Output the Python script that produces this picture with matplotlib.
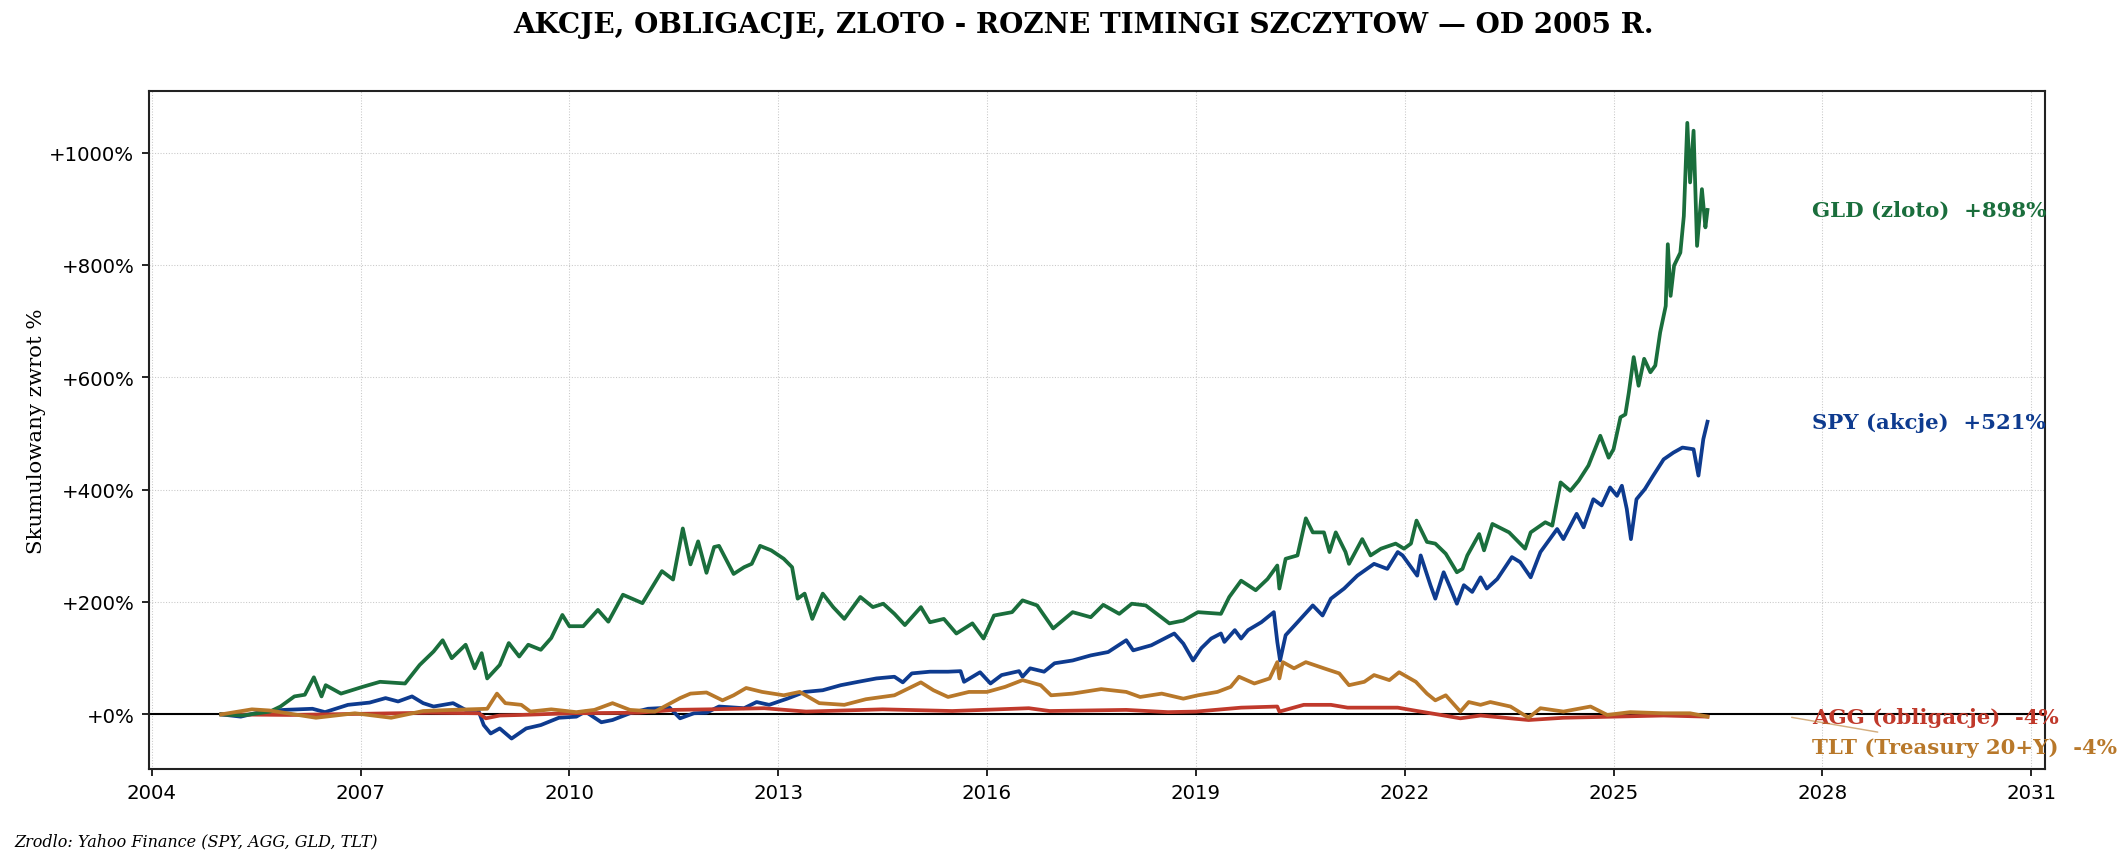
import matplotlib
matplotlib.use("Agg")
import matplotlib.pyplot as plt
from matplotlib.ticker import FuncFormatter, MultipleLocator

# data (decimal year, cumulative return in %)
gld_x = [2005.0, 2005.3, 2005.7, 2005.85, 2006.05, 2006.2, 2006.33, 2006.44, 2006.5, 2006.72,
         2007.03, 2007.28, 2007.64, 2007.85, 2008.05, 2008.18, 2008.31, 2008.51, 2008.64, 2008.74,
         2008.82, 2009.0, 2009.13, 2009.28, 2009.41, 2009.59, 2009.74, 2009.9, 2010.0, 2010.2,
         2010.41, 2010.56, 2010.77, 2011.05, 2011.33, 2011.49, 2011.63, 2011.74, 2011.85, 2011.97,
         2012.08, 2012.15, 2012.36, 2012.51, 2012.62, 2012.74, 2012.9, 2013.08, 2013.2, 2013.28,
         2013.38, 2013.49, 2013.64, 2013.79, 2013.95, 2014.18, 2014.36, 2014.51, 2014.67, 2014.82,
         2015.05, 2015.18, 2015.38, 2015.56, 2015.79, 2015.95, 2016.1, 2016.36, 2016.51, 2016.72,
         2016.95, 2017.23, 2017.49, 2017.67, 2017.9, 2018.08, 2018.28, 2018.62, 2018.82, 2019.03,
         2019.36, 2019.48, 2019.65, 2019.86, 2020.03, 2020.17, 2020.2, 2020.29, 2020.46, 2020.58,
         2020.68, 2020.84, 2020.92, 2021.01, 2021.15, 2021.2, 2021.39, 2021.51, 2021.66, 2021.87,
         2021.99, 2022.09, 2022.17, 2022.32, 2022.44, 2022.59, 2022.75, 2022.83, 2022.9, 2023.07,
         2023.14, 2023.26, 2023.5, 2023.73, 2023.81, 2024.02, 2024.12, 2024.24, 2024.38, 2024.5,
         2024.64, 2024.81, 2024.93, 2025.0, 2025.1, 2025.17, 2025.22, 2025.29, 2025.36, 2025.44,
         2025.53, 2025.6, 2025.67, 2025.75, 2025.78, 2025.82, 2025.87, 2025.96, 2026.01, 2026.06,
         2026.1, 2026.15, 2026.2, 2026.27, 2026.32, 2026.35]
gld_y = [0, -2, 5, 14, 32, 35, 66, 32, 52, 37,
         49, 58, 55, 88, 112, 132, 100, 124, 82, 109,
         64, 88, 127, 103, 124, 115, 136, 177, 157, 157,
         186, 165, 213, 198, 255, 240, 331, 267, 308, 252,
         298, 300, 250, 262, 268, 300, 292, 277, 262, 206,
         215, 170, 215, 191, 170, 209, 191, 197, 179, 159,
         191, 164, 170, 144, 162, 135, 176, 182, 203, 194,
         153, 182, 173, 195, 179, 197, 194, 162, 167, 182,
         179, 209, 238, 221, 241, 265, 224, 277, 283, 349,
         324, 324, 289, 324, 289, 268, 312, 283, 295, 304,
         295, 304, 345, 307, 304, 286, 253, 259, 283, 321,
         292, 339, 324, 295, 324, 342, 336, 413, 398, 416,
         443, 496, 457, 472, 529, 534, 573, 636, 585, 633,
         609, 621, 680, 727, 837, 745, 799, 822, 887, 1053,
         947, 1039, 834, 935, 867, 898]

spy_x = [2005.0, 2005.28, 2005.59, 2005.9, 2006.31, 2006.49, 2006.82, 2007.13, 2007.36, 2007.54,
         2007.74, 2007.9, 2008.05, 2008.33, 2008.51, 2008.69, 2008.77, 2008.87, 2009.0, 2009.17,
         2009.38, 2009.59, 2009.85, 2010.1, 2010.23, 2010.46, 2010.62, 2010.87, 2011.13, 2011.44,
         2011.59, 2011.79, 2011.97, 2012.15, 2012.51, 2012.69, 2012.87, 2013.13, 2013.38, 2013.64,
         2013.9, 2014.15, 2014.41, 2014.67, 2014.79, 2014.92, 2015.18, 2015.44, 2015.62, 2015.67,
         2015.9, 2016.05, 2016.21, 2016.46, 2016.51, 2016.62, 2016.82, 2016.97, 2017.23, 2017.49,
         2017.74, 2018.0, 2018.1, 2018.36, 2018.69, 2018.82, 2018.96, 2019.08, 2019.22, 2019.36,
         2019.41, 2019.56, 2019.65, 2019.75, 2019.94, 2020.12, 2020.17, 2020.21, 2020.29, 2020.46,
         2020.68, 2020.82, 2020.94, 2021.13, 2021.32, 2021.56, 2021.75, 2021.9, 2021.97, 2022.04,
         2022.18, 2022.23, 2022.37, 2022.44, 2022.56, 2022.66, 2022.75, 2022.85, 2022.97, 2023.09,
         2023.18, 2023.33, 2023.54, 2023.66, 2023.81, 2023.95, 2024.19, 2024.28, 2024.47, 2024.57,
         2024.71, 2024.83, 2024.95, 2025.05, 2025.12, 2025.19, 2025.25, 2025.33, 2025.45, 2025.57,
         2025.72, 2025.86, 2025.99, 2026.15, 2026.22, 2026.29, 2026.35]
spy_y = [0, -4, 5, 8, 10, 4, 17, 21, 29, 23,
         32, 20, 14, 20, 8, 8, -19, -34, -25, -43,
         -25, -19, -6, -4, 5, -14, -10, 2, 10, 12,
         -7, 2, 3, 14, 11, 22, 17, 28, 40, 43,
         52, 58, 64, 67, 57, 73, 76, 76, 77, 58,
         75, 55, 70, 77, 67, 82, 76, 91, 96, 105,
         111, 132, 114, 123, 144, 126, 96, 118, 135, 144,
         129, 150, 135, 150, 164, 182, 129, 96, 141, 164,
         194, 176, 206, 224, 247, 268, 259, 289, 283, 271,
         247, 283, 230, 206, 253, 224, 197, 230, 218, 244,
         224, 241, 280, 271, 244, 289, 330, 312, 357, 333,
         383, 372, 404, 389, 407, 366, 312, 383, 401, 425,
         454, 466, 475, 472, 425, 490, 521]

agg_x = [2005.0, 2006.0, 2007.0, 2008.0, 2008.7, 2008.8, 2009.0, 2009.3, 2010.0, 2011.0,
         2011.5, 2012.0, 2012.8, 2013.4, 2014.5, 2015.5, 2016.6, 2016.9, 2018.0, 2018.6,
         2019.0, 2019.65, 2020.17, 2020.2, 2020.55, 2020.94, 2021.18, 2021.9, 2022.18, 2022.47,
         2022.8, 2023.09, 2023.78, 2024.28, 2025.0, 2025.72, 2026.35]
agg_y = [0, -1, 1, 3, 2, -7, -2, -1, 2, 3,
         8, 9, 11, 5, 9, 6, 11, 6, 8, 4,
         5, 12, 14, 5, 17, 17, 12, 12, 6, 0,
         -7, -2, -10, -6, -4, -2, -4]

tlt_x = [2005.0, 2005.44, 2005.69, 2006.36, 2006.92, 2007.44, 2007.9, 2008.31, 2008.82, 2008.96,
         2009.08, 2009.31, 2009.44, 2009.74, 2010.1, 2010.36, 2010.62, 2010.87, 2011.23, 2011.59,
         2011.74, 2011.97, 2012.2, 2012.36, 2012.54, 2012.77, 2013.08, 2013.31, 2013.59, 2013.95,
         2014.26, 2014.67, 2015.05, 2015.23, 2015.44, 2015.74, 2016.0, 2016.26, 2016.51, 2016.77,
         2016.92, 2017.23, 2017.64, 2018.0, 2018.2, 2018.51, 2018.82, 2019.03, 2019.31, 2019.5,
         2019.62, 2019.84, 2020.06, 2020.17, 2020.2, 2020.25, 2020.41, 2020.58, 2020.84, 2021.06,
         2021.2, 2021.42, 2021.56, 2021.78, 2021.92, 2022.16, 2022.32, 2022.44, 2022.59, 2022.8,
         2022.92, 2023.09, 2023.23, 2023.52, 2023.78, 2023.95, 2024.28, 2024.67, 2024.91, 2025.24,
         2025.72, 2026.1, 2026.35]
tlt_y = [0, 9, 7, -6, 2, -6, 6, 8, 10, 37,
         20, 17, 5, 9, 4, 8, 20, 8, 5, 29,
         37, 39, 25, 34, 47, 40, 34, 40, 20, 17,
         27, 34, 57, 43, 31, 40, 40, 49, 61, 52,
         34, 37, 45, 40, 31, 37, 28, 34, 40, 49,
         67, 55, 64, 93, 64, 93, 82, 93, 82, 73,
         52, 58, 70, 61, 75, 58, 37, 25, 34, 5,
         22, 17, 22, 14, -6, 11, 5, 14, -1, 4,
         2, 2, -4]

labels = ["SPY (akcje)", "AGG (obligacje)", "GLD (zloto)", "TLT (Treasury 20+Y)"]
colors = ["#0e3b8f", "#c0392b", "#1a6e3c", "#b8782a"]
final = [521, -4, 898, -4]
label_y = [521, -4, 898, -58]

fig = plt.figure(figsize=(14.18, 5.773), dpi=150)
ax = fig.add_axes([0.070, 0.111, 0.8915, 0.783])

series = [(spy_x, spy_y), (agg_x, agg_y), (gld_x, gld_y), (tlt_x, tlt_y)]
for (xs, ys), c in zip(series, colors):
    ax.plot(xs, ys, color=c, lw=1.8, zorder=3)

ax.axhline(0, color="black", lw=1.0, zorder=2)

end = 2026.35
for lab, c, f, ly in zip(labels, colors, final, label_y):
    txt = f"{lab}  {f:+d}%"
    if ly != f:
        ax.annotate(txt, xy=(end + 1.15, f), xytext=(end + 1.5, ly),
                    color=c, fontsize=10.2, fontweight="bold", family="DejaVu Serif",
                    va="center", ha="left", annotation_clip=False,
                    arrowprops=dict(arrowstyle="-", color=c, lw=0.7, alpha=0.6))
    else:
        ax.text(end + 1.5, ly, txt, color=c, fontsize=10.2, fontweight="bold",
                family="DejaVu Serif", va="center", ha="left", clip_on=False)

ax.set_xlim(2003.96, 2031.2)
ax.set_ylim(-97, 1110)
ax.xaxis.set_major_locator(MultipleLocator(3))
ax.xaxis.set_major_formatter(FuncFormatter(lambda v, p: f"{int(round(v))}"))
ax.yaxis.set_major_locator(MultipleLocator(200))
ax.yaxis.set_major_formatter(FuncFormatter(lambda v, p: f"{v:+.0f}%"))
ax.tick_params(labelsize=9.5)
ax.grid(True, ls=":", color="#c8c8c8", lw=0.5, zorder=0)
ax.set_axisbelow(True)
for s in ax.spines.values():
    s.set_linewidth(1.0)
    s.set_color("#222222")

ax.set_ylabel("Skumulowany zwrot %", family="DejaVu Serif", fontsize=10.2, labelpad=1.5)
fig.suptitle("AKCJE, OBLIGACJE, ZLOTO - ROZNE TIMINGI SZCZYTOW \u2014 OD 2005 R.",
             family="DejaVu Serif", fontweight="bold", fontsize=13.4, x=0.5095, y=0.986)
fig.text(0.0066, 0.023, "Zrodlo: Yahoo Finance (SPY, AGG, GLD, TLT)",
         family="DejaVu Serif", style="italic", fontsize=7.7)

fig.savefig("out.png", dpi=150)
